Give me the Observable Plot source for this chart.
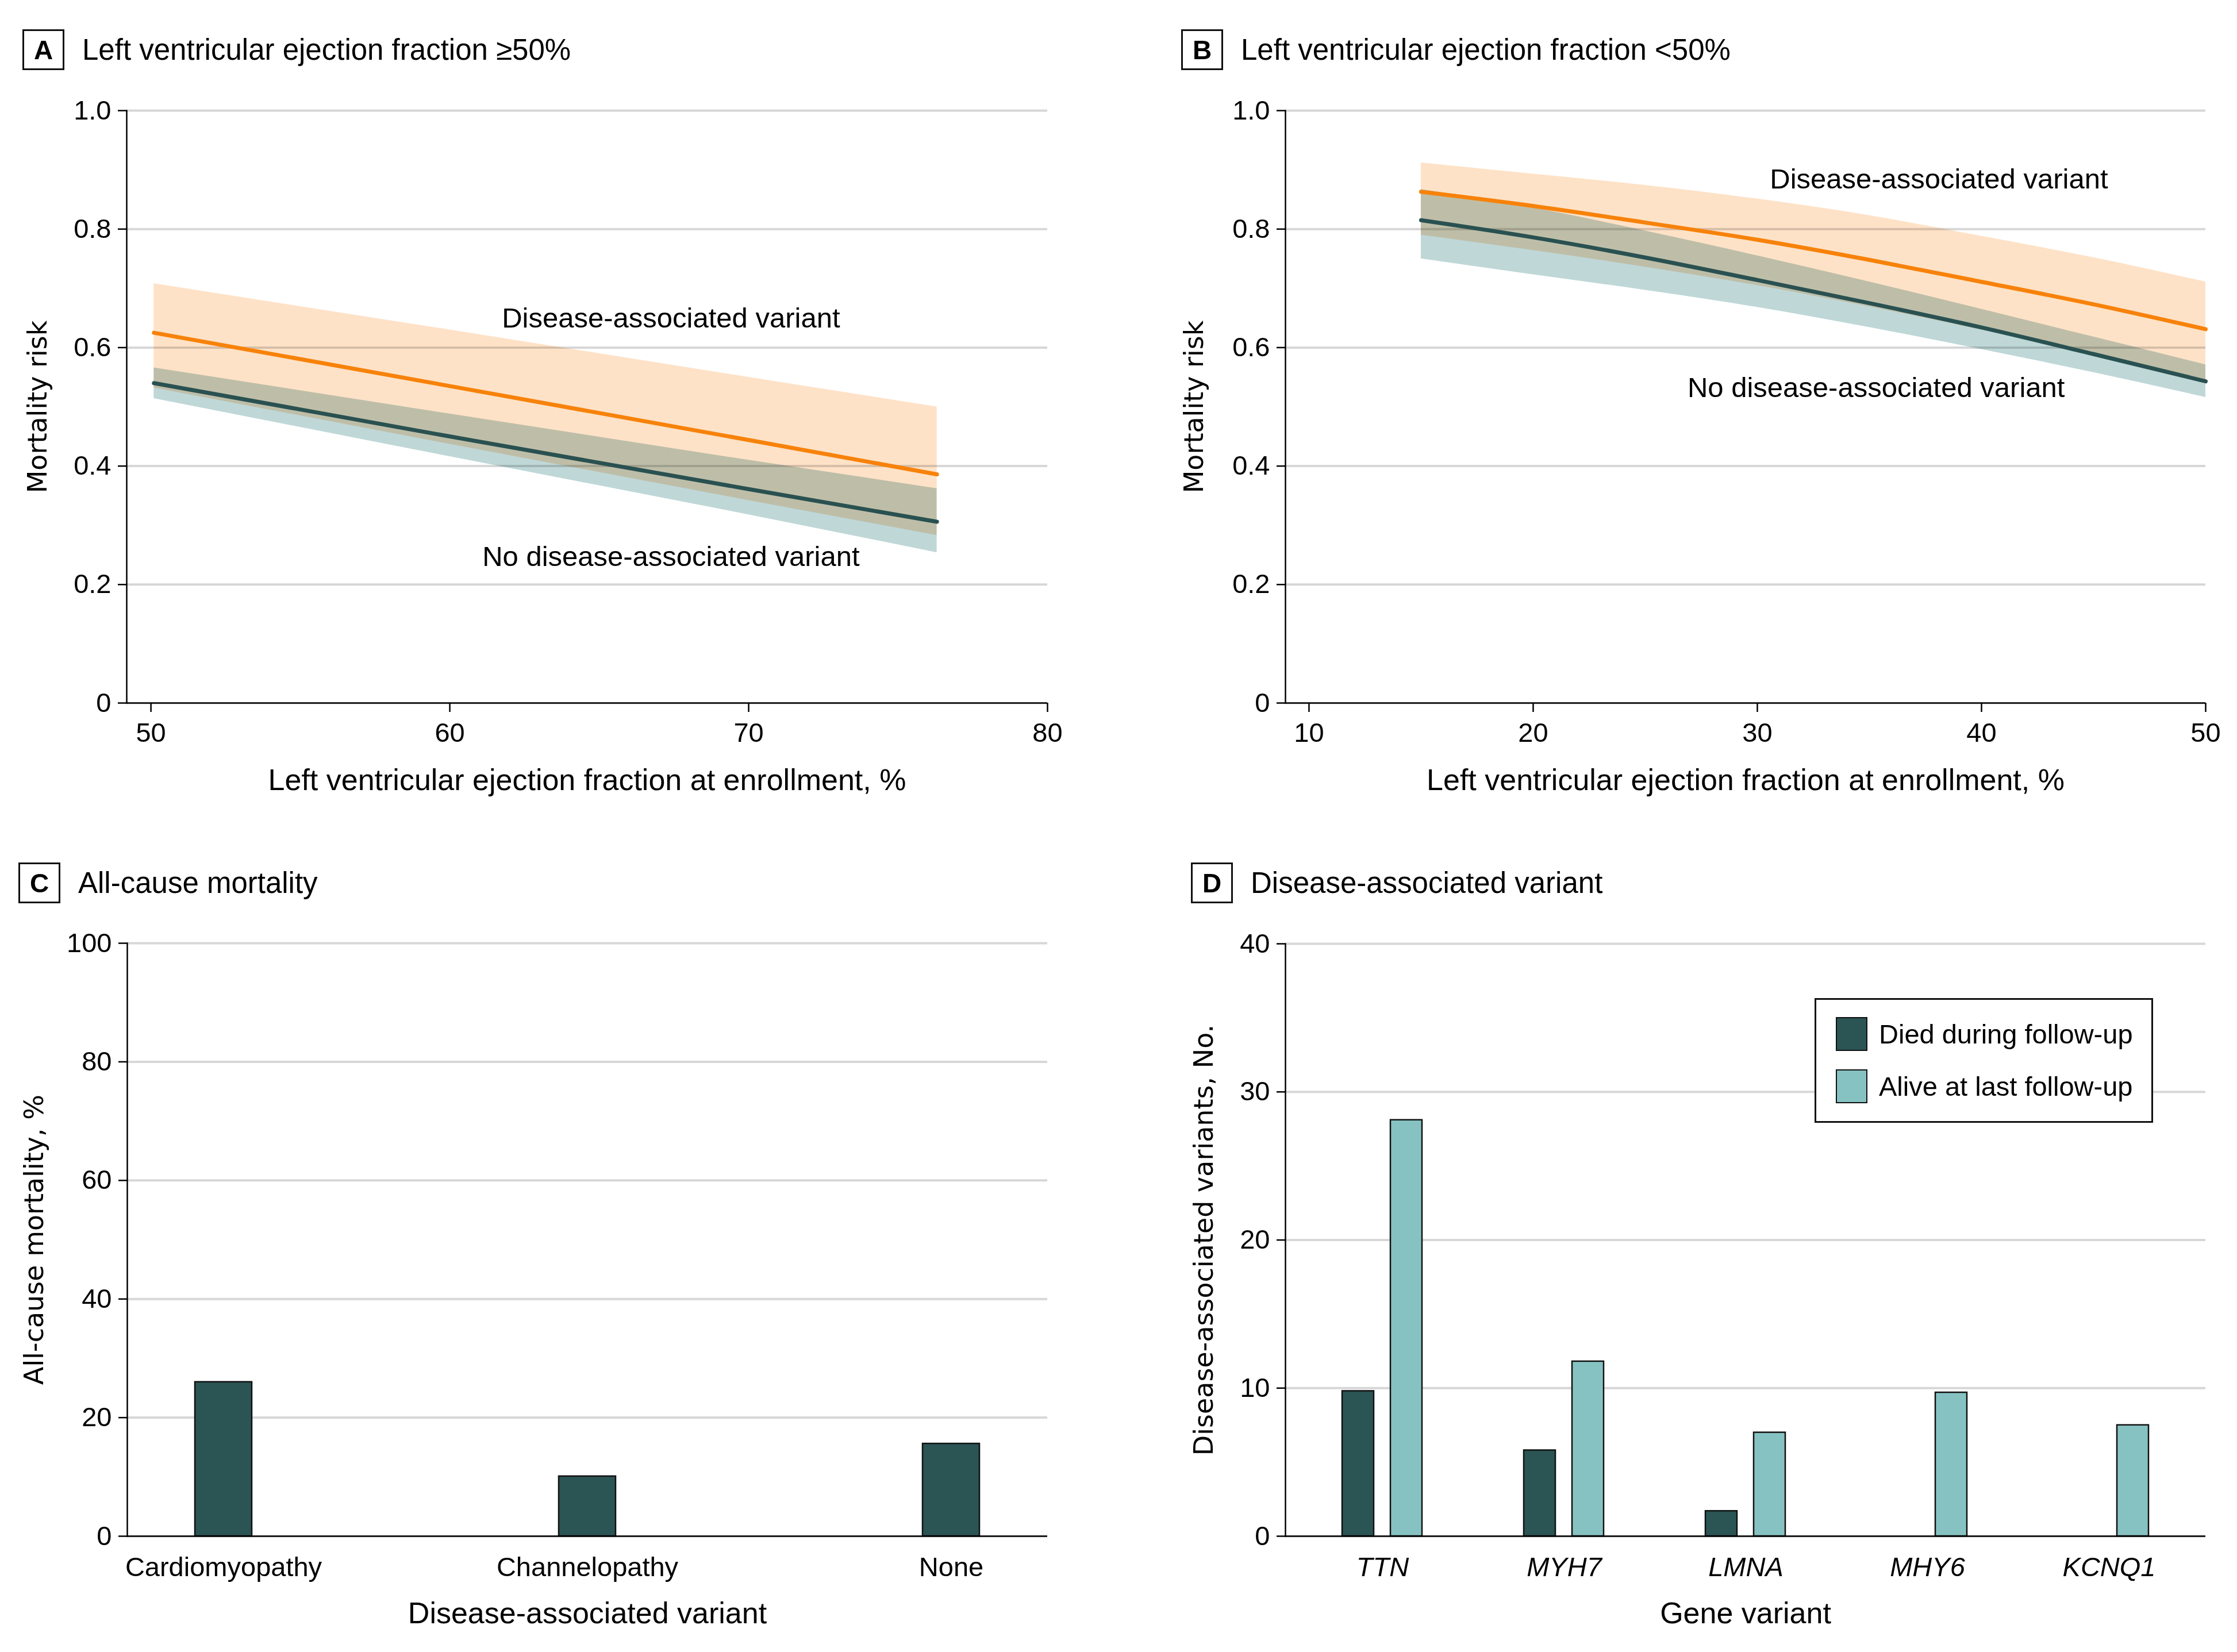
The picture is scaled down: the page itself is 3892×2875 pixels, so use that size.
<!DOCTYPE html>
<html>
<head>
<meta charset="utf-8">
<script src="https://cdn.jsdelivr.net/npm/d3@7"></script>
<script src="https://cdn.jsdelivr.net/npm/@observablehq/plot@0.6"></script>
<style>
  html, body { margin: 0; padding: 0; background: #fff; }
  #root { position: relative; width: 3892px; height: 2875px; background: #fff; overflow: hidden;
          font-family: "Liberation Sans", Arial, sans-serif; color: #000; }
  #root svg { position: absolute; }
  .title { position: absolute; display: flex; align-items: center; font-size: 51px; white-space: nowrap; }
  .title .box { box-sizing: border-box; width: 73px; height: 71px; border: 3px solid #111; font-weight: bold;
                font-size: 46px; display: flex; align-items: center; justify-content: center; margin-right: 31px; }
  .legend { position: absolute; box-sizing: border-box; border: 3px solid #111; background: #fff; }
  .legend .item { position: absolute; display: flex; align-items: center; font-size: 47px; white-space: nowrap; }
  .legend .sw { box-sizing: border-box; width: 55px; height: 59px; border: 2.5px solid #111; margin-right: 20px; }
</style>
</head>
<body>
<div id="root"></div>
<script>
// ---------------- Data ----------------
const riskTicks = [0, 0.2, 0.4, 0.6, 0.8, 1.0];

// Panel A: LVEF >= 50%
const lvefA = [50.1, 60, 70, 76.3];
const riskA_variant    = [0.625, 0.535, 0.444, 0.386];
const riskA_variantHi  = [0.708, 0.630, 0.550, 0.500];
const riskA_variantLo  = [0.532, 0.437, 0.342, 0.283];
const riskA_none       = [0.540, 0.450, 0.361, 0.306];
const riskA_noneHi     = [0.566, 0.488, 0.410, 0.362];
const riskA_noneLo     = [0.514, 0.416, 0.318, 0.254];
const ticksA = [50, 60, 70, 80];

// Panel B: LVEF < 50%
const lvefB = [15, 20, 25, 30, 35, 40, 45, 50];
const riskB_variant    = [0.863, 0.839, 0.811, 0.782, 0.748, 0.711, 0.673, 0.631];
const riskB_variantHi  = [0.912, 0.893, 0.874, 0.851, 0.823, 0.788, 0.752, 0.711];
const riskB_variantLo  = [0.790, 0.764, 0.736, 0.705, 0.669, 0.630, 0.588, 0.545];
const riskB_none       = [0.815, 0.786, 0.752, 0.714, 0.675, 0.634, 0.589, 0.543];
const riskB_noneHi     = [0.867, 0.836, 0.797, 0.755, 0.711, 0.665, 0.618, 0.571];
const riskB_noneLo     = [0.750, 0.723, 0.697, 0.668, 0.634, 0.597, 0.558, 0.516];
const ticksB = [10, 20, 30, 40, 50];

// Curve labels
const labelsA = [
  {label: "Disease-associated variant", x: 67.4, y: 0.649},
  {label: "No disease-associated variant", x: 67.4, y: 0.247}
];
const labelsB = [
  {label: "Disease-associated variant", x: 38.1, y: 0.884},
  {label: "No disease-associated variant", x: 35.3, y: 0.532}
];

// Panel C
const variantCats = ["Cardiomyopathy", "Channelopathy", "None"];
const mortalityPct = [26.0, 10.1, 15.6];
const ticksC = [0, 20, 40, 60, 80, 100];

// Panel D
const genes = ["TTN", "MYH7", "LMNA", "MHY6", "KCNQ1"];
const diedCounts  = [9.8, 5.8, 1.7, 0, 0];
const aliveCounts = [28.1, 11.8, 7.0, 9.7, 7.5];
const ticksD = [0, 10, 20, 30, 40];
const legendLabels = ["Died during follow-up", "Alive at last follow-up"];

// ---------------- Styles ----------------
const FONT = '"Liberation Sans", Arial, sans-serif';
const YFONT = '"DejaVu Sans", Verdana, sans-serif';
const ORANGE = "#F7820A", ORANGE_BAND = "#FEE2C7";
const DARK = "#2A5151", TEAL_BAND = "#BFD7D7";
const DIED = "#2B5454", ALIVE = "#86C2C1";
const GRID = "#d7d7d7";

const root = document.getElementById("root");

function rowsOf(xs, v, vHi, vLo, n, nHi, nLo) {
  return xs.map((x, i) => ({x, v: v[i], vHi: vHi[i], vLo: vLo[i], n: n[i], nHi: nHi[i], nLo: nLo[i]}));
}

function curvePanel({xDomain, xTicks, rows, labels, ml, mr, yLabelOffset, curve}) {
  return Plot.plot({
    width: 1946, height: 1440,
    marginLeft: ml, marginRight: mr, marginTop: 192, marginBottom: 217,
    style: {fontFamily: FONT, fontSize: "47px", color: "#000", background: "transparent", overflow: "visible"},
    x: {domain: xDomain},
    y: {domain: [0, 1]},
    marks: [
      Plot.gridY(riskTicks, {stroke: GRID, strokeWidth: 4, strokeOpacity: 1}),
      Plot.areaY(rows, {x: "x", y1: "vLo", y2: "vHi", fill: ORANGE_BAND, curve, mixBlendMode: "multiply"}),
      Plot.areaY(rows, {x: "x", y1: "nLo", y2: "nHi", fill: TEAL_BAND, curve, mixBlendMode: "multiply"}),
      Plot.lineY(rows, {x: "x", y: "v", stroke: ORANGE, strokeWidth: 7, curve}),
      Plot.lineY(rows, {x: "x", y: "n", stroke: DARK, strokeWidth: 7, curve}),
      Plot.frame({anchor: "left", stroke: "#000", strokeWidth: 2.5}),
      Plot.ruleY([0], {stroke: "#000", strokeWidth: 2.5}),
      Plot.axisY({ticks: riskTicks, tickSize: 15, tickPadding: 12, strokeWidth: 2.5, label: null,
                  tickFormat: d => d === 0 ? "0" : d.toFixed(1)}),
      Plot.axisX({ticks: xTicks, tickSize: 16, tickPadding: 18, strokeWidth: 2.5, label: null}),
      Plot.text(labels, {x: "x", y: "y", text: "label", fontSize: 49}),
      Plot.text(["Left ventricular ejection fraction at enrollment, %"],
        {frameAnchor: "bottom", text: d => d, lineAnchor: "top", dy: 115, fontSize: 52}),
      Plot.text(["Mortality risk"],
        {frameAnchor: "left", text: d => d, textAnchor: "middle", rotate: -90, lineAnchor: "top",
         dx: -yLabelOffset, fontFamily: YFONT, fontSize: 46})
    ]
  });
}

// Panel A
const plotA = curvePanel({
  xDomain: [49.19, 80], xTicks: ticksA,
  rows: rowsOf(lvefA, riskA_variant, riskA_variantHi, riskA_variantLo, riskA_none, riskA_noneHi, riskA_noneLo),
  labels: labelsA, ml: 220, mr: 1946 - 1822, yLabelOffset: 172, curve: "linear"
});
plotA.style.left = "0px"; plotA.style.top = "0px";
root.appendChild(plotA);

// Panel B
const plotB = curvePanel({
  xDomain: [8.95, 50], xTicks: ticksB,
  rows: rowsOf(lvefB, riskB_variant, riskB_variantHi, riskB_variantLo, riskB_none, riskB_noneHi, riskB_noneLo),
  labels: labelsB, ml: 290, mr: 1946 - (3837 - 1946), yLabelOffset: 176, curve: "monotone-x"
});
plotB.style.left = "1946px"; plotB.style.top = "0px";
root.appendChild(plotB);

// Panel C
const cRows = variantCats.map((c, i) => ({cat: c, value: mortalityPct[i]}));
const plotC = Plot.plot({
  width: 1946, height: 1435,
  marginLeft: 221, marginRight: 1946 - 1822, marginTop: 201, marginBottom: 202,
  style: {fontFamily: FONT, fontSize: "47px", color: "#000", background: "transparent", overflow: "visible"},
  x: {type: "band", domain: variantCats, paddingInner: 0.844, paddingOuter: 0.1865},
  y: {domain: [0, 100]},
  marks: [
    Plot.gridY(ticksC, {stroke: GRID, strokeWidth: 4, strokeOpacity: 1}),
    Plot.barY(cRows, {x: "cat", y: "value", fill: DIED, stroke: "#111", strokeWidth: 2.5}),
    Plot.frame({anchor: "left", stroke: "#000", strokeWidth: 2.5}),
    Plot.ruleY([0], {stroke: "#000", strokeWidth: 2.5}),
    Plot.axisY({ticks: ticksC, tickSize: 15, tickPadding: 12, strokeWidth: 2.5, label: null}),
    Plot.axisX({tickSize: 0, tickPadding: 36, label: null}),
    Plot.text(["Disease-associated variant"],
      {frameAnchor: "bottom", text: d => d, lineAnchor: "top", dy: 115, fontSize: 52}),
    Plot.text(["All-cause mortality, %"],
      {frameAnchor: "left", text: d => d, textAnchor: "middle", rotate: -90, lineAnchor: "top",
       dx: -179, fontFamily: YFONT, fontSize: 46})
  ]
});
plotC.style.left = "0px"; plotC.style.top = "1440px";
root.appendChild(plotC);

// Panel D
const dRows = genes.map((g, i) => ({gene: g, died: diedCounts[i], alive: aliveCounts[i]}));
const plotD = Plot.plot({
  width: 1946, height: 1435,
  marginLeft: 290, marginRight: 1946 - (3837 - 1946), marginTop: 202, marginBottom: 202,
  style: {fontFamily: FONT, fontSize: "47px", color: "#000", background: "transparent", overflow: "visible"},
  x: {type: "band", domain: genes, paddingInner: 0, paddingOuter: 0.029},
  y: {domain: [0, 40]},
  marks: [
    Plot.gridY(ticksD, {stroke: GRID, strokeWidth: 4, strokeOpacity: 1}),
    Plot.barY(dRows.filter(d => d.died > 0), {x: "gene", y: "died", insetLeft: 88, insetRight: 173,
      fill: DIED, stroke: "#111", strokeWidth: 2.5}),
    Plot.barY(dRows.filter(d => d.alive > 0), {x: "gene", y: "alive", insetLeft: 172, insetRight: 89,
      fill: ALIVE, stroke: "#111", strokeWidth: 2.5}),
    Plot.frame({anchor: "left", stroke: "#000", strokeWidth: 2.5}),
    Plot.ruleY([0], {stroke: "#000", strokeWidth: 2.5}),
    Plot.axisY({ticks: ticksD, tickSize: 15, tickPadding: 12, strokeWidth: 2.5, label: null}),
    Plot.axisX({tickSize: 0, tickPadding: 36, label: null, fontStyle: "italic"}),
    Plot.text(["Gene variant"],
      {frameAnchor: "bottom", text: d => d, lineAnchor: "top", dy: 115, fontSize: 52}),
    Plot.text(["Disease-associated variants, No."],
      {frameAnchor: "left", text: d => d, textAnchor: "middle", rotate: -90, lineAnchor: "top",
       dx: -159, fontFamily: YFONT, fontSize: 46})
  ]
});
plotD.style.left = "1946px"; plotD.style.top = "1440px";
root.appendChild(plotD);

// Panel titles
function addTitle(letter, text, left, top) {
  const t = document.createElement("div");
  t.className = "title";
  t.style.left = left + "px"; t.style.top = top + "px";
  const b = document.createElement("div");
  b.className = "box"; b.textContent = letter;
  const s = document.createElement("span");
  s.textContent = text;
  t.appendChild(b); t.appendChild(s);
  root.appendChild(t);
}
addTitle("A", "Left ventricular ejection fraction \u226550%", 39, 51);
addTitle("B", "Left ventricular ejection fraction <50%", 2055, 51);
addTitle("C", "All-cause mortality", 32, 1501);
addTitle("D", "Disease-associated variant", 2072, 1501);

// Legend for panel D
const lg = document.createElement("div");
lg.className = "legend";
Object.assign(lg.style, {left: "3157px", top: "1737px", width: "589px", height: "217px"});
[DIED, ALIVE].forEach((c, i) => {
  const it = document.createElement("div");
  it.className = "item";
  it.style.left = "34px";
  it.style.top = (30 + i * 91) + "px";
  const sw = document.createElement("div");
  sw.className = "sw"; sw.style.background = c;
  const tx = document.createElement("span");
  tx.textContent = legendLabels[i];
  it.appendChild(sw); it.appendChild(tx);
  lg.appendChild(it);
});
root.appendChild(lg);
</script>
</body>
</html>
